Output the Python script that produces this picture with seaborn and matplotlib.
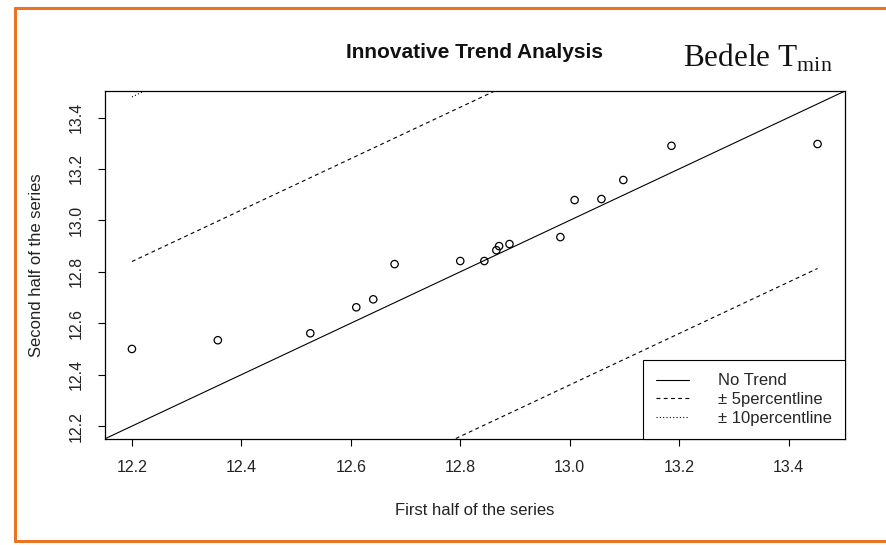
#!/usr/bin/env python3
"""
Innovative Trend Analysis - Bedele Tmin
"""

import numpy as np
import pandas as pd
import matplotlib
matplotlib.use("Agg")
import matplotlib.pyplot as plt
from matplotlib.lines import Line2D
import seaborn as sns

# dados
first_half = [12.200, 12.357, 12.526, 12.610, 12.641, 12.680, 12.800, 12.844, 12.866,
              12.871, 12.890, 12.983, 13.009, 13.058, 13.098, 13.186, 13.453]
second_half = [12.500, 12.534, 12.561, 12.662, 12.693, 12.830, 12.842, 12.842, 12.884,
               12.900, 12.908, 12.935, 13.079, 13.083, 13.157, 13.290, 13.297]
band_5 = 0.64    # +/- 5 percentil
band_10 = 1.28   # +/- 10 percentil
tick_values = [12.2, 12.4, 12.6, 12.8, 13.0, 13.2, 13.4]
legend_labels = ["No Trend", "\u00b1 5percentline", "\u00b1 10percentline"]

sns.set_theme(style="white")
plt.rcParams['font.family'] = ['Liberation Sans', 'DejaVu Sans']

df = pd.DataFrame({"first": first_half, "second": second_half})

# limites estilo R (4% de extensao)
lo = min(min(first_half), min(second_half))
hi = max(max(first_half), max(second_half))
pad = 0.04 * (hi - lo)
lims = (lo - pad, hi + pad)

fig = plt.figure(figsize=(8.86, 5.45), dpi=100)
ax = fig.add_axes([104.5 / 886, 1 - 439 / 545, (845 - 104.5) / 886, (439 - 91) / 545])

# linha 1:1
diag = pd.DataFrame({"x": list(lims), "y": list(lims)})
sns.lineplot(data=diag, x="x", y="y", ax=ax, color="black", lw=0.8)

# faixas
xr = [min(first_half), max(first_half)]
for off, ls in [(band_5, (0, (3.5, 3))), (band_10, (0, (1, 2)))]:
    for sgn in (1, -1):
        band = pd.DataFrame({"x": xr, "y": [v + sgn * off for v in xr]})
        sns.lineplot(data=band, x="x", y="y", ax=ax, color="black", lw=0.8, linestyle=ls)

sns.scatterplot(data=df, x="first", y="second", ax=ax, s=28, marker="o",
                facecolor="none", edgecolor="black", linewidth=0.9, zorder=3)

ax.set_xlim(lims)
ax.set_ylim(lims)
ax.set_xticks(tick_values)
ax.set_yticks(tick_values)
ax.set_xticklabels([f"{v:.1f}" for v in tick_values])
ax.set_yticklabels([f"{v:.1f}" for v in tick_values], rotation=90, va="center")
ax.tick_params(axis="both", direction="out", length=5, width=0.8, color="black",
               labelsize=11.5, labelcolor="#222222", bottom=True, left=True)
ax.tick_params(axis="x", pad=10)
ax.tick_params(axis="y", pad=10)
for sp in ax.spines.values():
    sp.set_color("black")
    sp.set_linewidth(0.9)

ax.set_xlabel("First half of the series", fontsize=12, labelpad=20, color="#222222")
ax.set_ylabel("Second half of the series", fontsize=12, labelpad=18, color="#222222")

handles = [Line2D([0], [0], color="black", lw=0.8),
           Line2D([0], [0], color="black", lw=0.8, linestyle=(0, (3.5, 3))),
           Line2D([0], [0], color="black", lw=0.8, linestyle=(0, (1, 2)))]
leg = ax.legend(handles, legend_labels, loc="lower right", frameon=True, fancybox=False,
                borderaxespad=0, fontsize=12, handlelength=2.0, handletextpad=1.7,
                borderpad=0.8, labelspacing=0.22, framealpha=1, edgecolor="black")
leg.get_frame().set_linewidth(0.8)

fig.text(474 / 886, 1 - 52 / 545, "Innovative Trend Analysis", ha="center", va="center",
         fontsize=15, fontweight="bold", color="#111111")
fig.text(683 / 886, 1 - 58 / 545, r"Bedele T$_{\mathregular{min}}$", ha="left", va="center",
         fontsize=22.5, family="Liberation Serif", color="#111111")

# moldura laranja
orange = "#E87424"
fig.add_artist(Line2D([15 / 886, 1], [1 - 8 / 545, 1 - 8 / 545], color=orange, lw=2.2))
fig.add_artist(Line2D([15 / 886, 1], [1 - 541 / 545, 1 - 541 / 545], color=orange, lw=2.2))
fig.add_artist(Line2D([15 / 886, 15 / 886], [1 - 8 / 545, 1 - 541 / 545], color=orange, lw=2.2))

plt.savefig("out.png", dpi=100)
plt.close()
